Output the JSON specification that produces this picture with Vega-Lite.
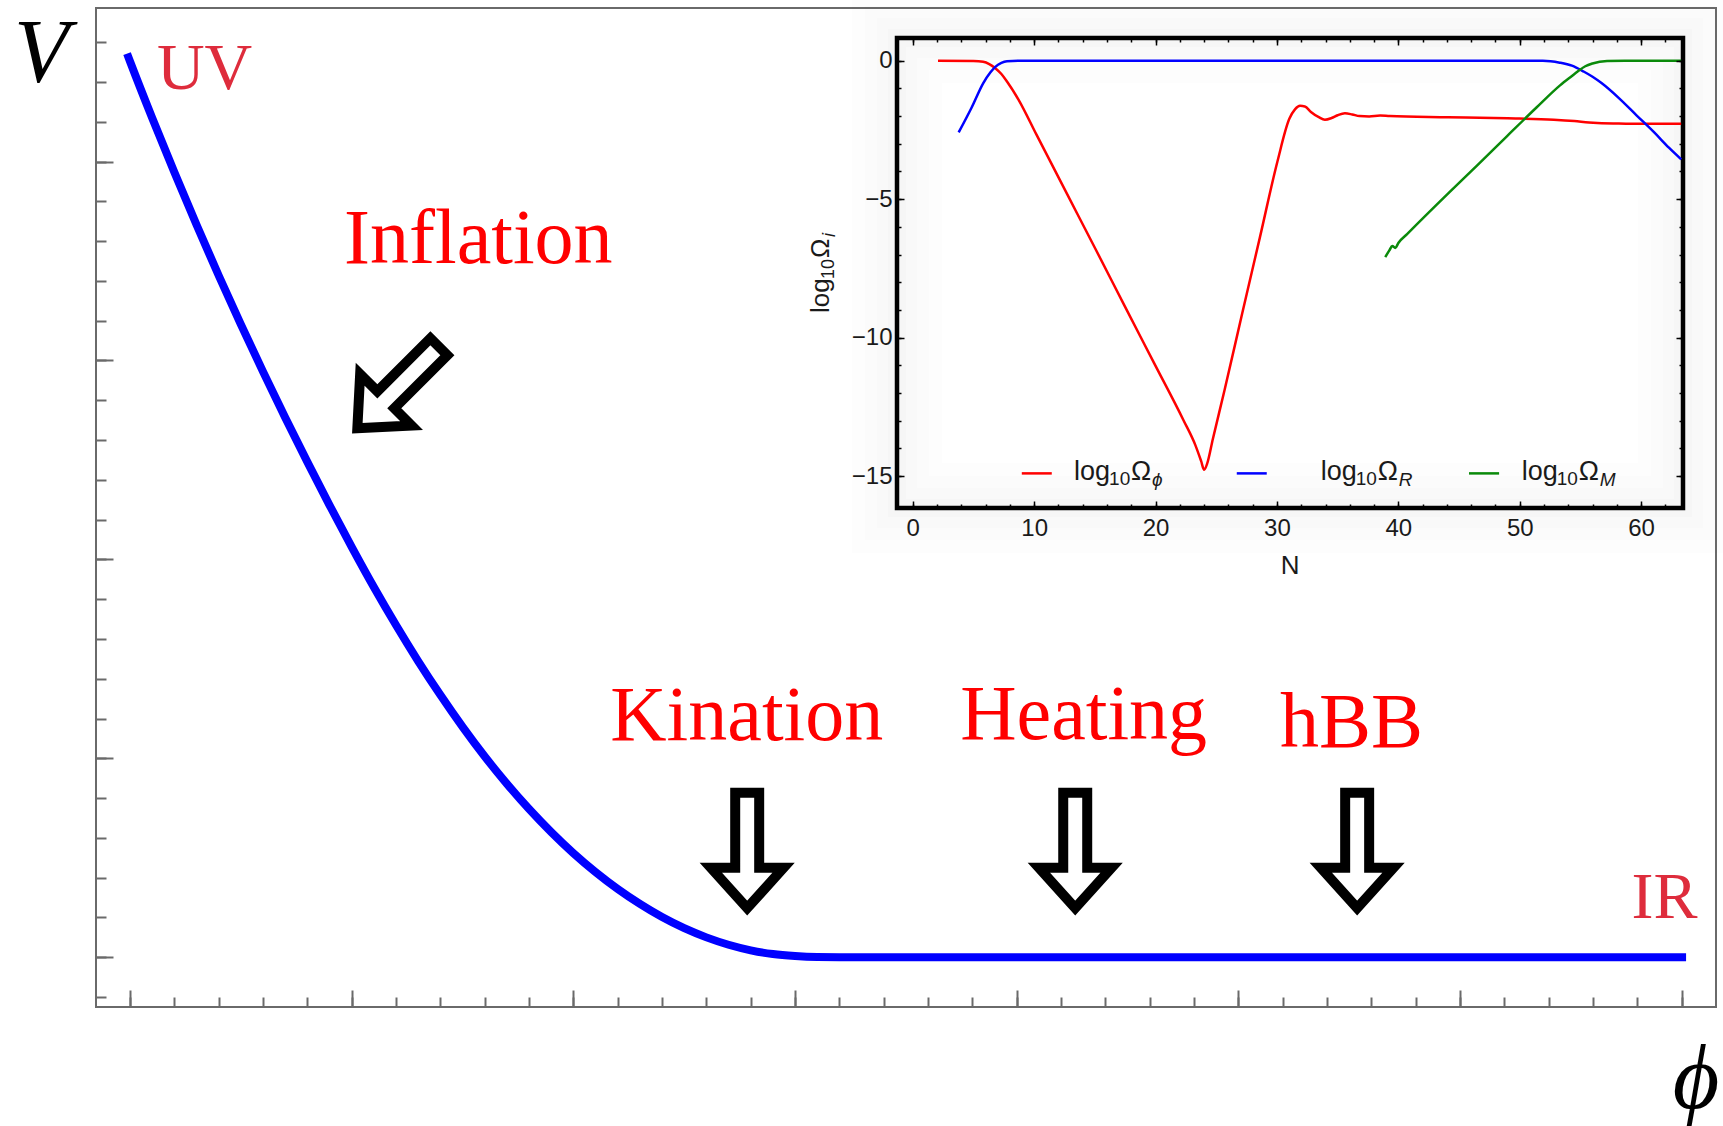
{
  "$schema": "https://vega.github.io/schema/vega-lite/v6.json",
  "width": 1620,
  "height": 999,
  "autosize": {"type": "none"},
  "padding": {"left": 96, "top": 8, "right": 7, "bottom": 119},
  "background": "white",
  "config": {"view": {"stroke": "#6a6a6a", "strokeWidth": 2}},
  "datasets": {
    "potential": [
      {"phi": -0.014, "V": 4.543}, {"phi": 0, "V": 4.502}, {"phi": 0.1, "V": 4.218}, {"phi": 0.2, "V": 3.945},
      {"phi": 0.3, "V": 3.681}, {"phi": 0.4, "V": 3.426}, {"phi": 0.5, "V": 3.18}, {"phi": 0.6, "V": 2.943},
      {"phi": 0.7, "V": 2.712}, {"phi": 0.8, "V": 2.489}, {"phi": 0.9, "V": 2.272}, {"phi": 1.0, "V": 2.062},
      {"phi": 1.1, "V": 1.86}, {"phi": 1.2, "V": 1.669}, {"phi": 1.3, "V": 1.488}, {"phi": 1.4, "V": 1.318},
      {"phi": 1.5, "V": 1.158}, {"phi": 1.6, "V": 1.009}, {"phi": 1.7, "V": 0.872}, {"phi": 1.8, "V": 0.745},
      {"phi": 1.9, "V": 0.629}, {"phi": 2.0, "V": 0.523}, {"phi": 2.1, "V": 0.428}, {"phi": 2.2, "V": 0.343},
      {"phi": 2.3, "V": 0.268}, {"phi": 2.4, "V": 0.202}, {"phi": 2.5, "V": 0.146}, {"phi": 2.6, "V": 0.1},
      {"phi": 2.7, "V": 0.063}, {"phi": 2.8, "V": 0.035}, {"phi": 2.9, "V": 0.016}, {"phi": 3.0, "V": 0.006},
      {"phi": 3.1, "V": 0.001}, {"phi": 3.2, "V": 0}, {"phi": 4, "V": 0}, {"phi": 5, "V": 0}, {"phi": 6, "V": 0},
      {"phi": 7.02, "V": 0}
    ],
    "phases": [
      {"label": "Inflation", "x": 1.571, "y": 3.49},
      {"label": "Kination", "x": 2.782, "y": 1.092},
      {"label": "Heating", "x": 4.302, "y": 1.097},
      {"label": "hBB", "x": 5.511, "y": 1.057}
    ],
    "ends": [
      {"label": "UV", "x": 0.336, "y": 4.363},
      {"label": "IR", "x": 6.923, "y": 0.197}
    ],
    "symbols": [
      {"label": "V", "x": -0.4, "y": 4.398},
      {"label": "ϕ", "x": 7.065, "y": -0.757}
    ],
    "arrows": [
      {"stage": "Inflation", "x": 1.209, "y": 2.864},
      {"stage": "Kination", "x": 2.784, "y": 0.537},
      {"stage": "Heating", "x": 4.264, "y": 0.537},
      {"stage": "hBB", "x": 5.536, "y": 0.537}
    ],
    "frame": [{"x1": -1.3, "x2": 63.45, "y1": -16.15, "y2": 0.82}],
    "omega": [
      {"series": "phi", "N": 2.08, "logOmega": 0}, {"series": "phi", "N": 5.0, "logOmega": -0.01},
      {"series": "phi", "N": 5.8, "logOmega": -0.04}, {"series": "phi", "N": 6.3, "logOmega": -0.12},
      {"series": "phi", "N": 6.8, "logOmega": -0.27}, {"series": "phi", "N": 7.3, "logOmega": -0.48},
      {"series": "phi", "N": 7.76, "logOmega": -0.75}, {"series": "phi", "N": 8.73, "logOmega": -1.42},
      {"series": "phi", "N": 10.18, "logOmega": -2.66}, {"series": "phi", "N": 12.6, "logOmega": -4.72},
      {"series": "phi", "N": 15.03, "logOmega": -6.78}, {"series": "phi", "N": 17.45, "logOmega": -8.85},
      {"series": "phi", "N": 19.87, "logOmega": -10.91}, {"series": "phi", "N": 22.3, "logOmega": -12.98},
      {"series": "phi", "N": 23.27, "logOmega": -13.87}, {"series": "phi", "N": 23.75, "logOmega": -14.45},
      {"series": "phi", "N": 24.0, "logOmega": -14.77}, {"series": "phi", "N": 24.25, "logOmega": -14.55},
      {"series": "phi", "N": 24.72, "logOmega": -13.66}, {"series": "phi", "N": 25.69, "logOmega": -11.88},
      {"series": "phi", "N": 27.14, "logOmega": -9.12}, {"series": "phi", "N": 28.6, "logOmega": -6.37},
      {"series": "phi", "N": 30.05, "logOmega": -3.62}, {"series": "phi", "N": 31.02, "logOmega": -2.1},
      {"series": "phi", "N": 31.5, "logOmega": -1.75}, {"series": "phi", "N": 31.9, "logOmega": -1.63},
      {"series": "phi", "N": 32.3, "logOmega": -1.65}, {"series": "phi", "N": 32.8, "logOmega": -1.85},
      {"series": "phi", "N": 33.45, "logOmega": -2.04}, {"series": "phi", "N": 33.95, "logOmega": -2.13},
      {"series": "phi", "N": 34.5, "logOmega": -2.07}, {"series": "phi", "N": 35.0, "logOmega": -1.97},
      {"series": "phi", "N": 35.6, "logOmega": -1.9}, {"series": "phi", "N": 36.2, "logOmega": -1.94},
      {"series": "phi", "N": 36.8, "logOmega": -2.0}, {"series": "phi", "N": 37.6, "logOmega": -2.01},
      {"series": "phi", "N": 38.5, "logOmega": -1.98}, {"series": "phi", "N": 39.3, "logOmega": -2.0},
      {"series": "phi", "N": 44.1, "logOmega": -2.04}, {"series": "phi", "N": 49.0, "logOmega": -2.08},
      {"series": "phi", "N": 52.8, "logOmega": -2.13}, {"series": "phi", "N": 54.5, "logOmega": -2.18},
      {"series": "phi", "N": 55.7, "logOmega": -2.23}, {"series": "phi", "N": 57.7, "logOmega": -2.27},
      {"series": "phi", "N": 63.3, "logOmega": -2.28},
      {"series": "R", "N": 3.78, "logOmega": -2.59}, {"series": "R", "N": 4.85, "logOmega": -1.69},
      {"series": "R", "N": 5.82, "logOmega": -0.8}, {"series": "R", "N": 6.4, "logOmega": -0.42},
      {"series": "R", "N": 6.8, "logOmega": -0.22}, {"series": "R", "N": 7.3, "logOmega": -0.08},
      {"series": "R", "N": 7.76, "logOmega": -0.02}, {"series": "R", "N": 8.73, "logOmega": 0},
      {"series": "R", "N": 51.9, "logOmega": 0}, {"series": "R", "N": 53.3, "logOmega": -0.07},
      {"series": "R", "N": 54.3, "logOmega": -0.18}, {"series": "R", "N": 55.26, "logOmega": -0.39},
      {"series": "R", "N": 56.0, "logOmega": -0.58}, {"series": "R", "N": 56.71, "logOmega": -0.8},
      {"series": "R", "N": 58.17, "logOmega": -1.35}, {"series": "R", "N": 59.62, "logOmega": -1.97},
      {"series": "R", "N": 61.08, "logOmega": -2.59}, {"series": "R", "N": 62.29, "logOmega": -3.14},
      {"series": "R", "N": 63.3, "logOmega": -3.56},
      {"series": "M", "N": 38.92, "logOmega": -7.09}, {"series": "M", "N": 39.26, "logOmega": -6.85},
      {"series": "M", "N": 39.5, "logOmega": -6.69}, {"series": "M", "N": 39.75, "logOmega": -6.76},
      {"series": "M", "N": 40.0, "logOmega": -6.58}, {"series": "M", "N": 40.72, "logOmega": -6.26},
      {"series": "M", "N": 44.11, "logOmega": -4.79}, {"series": "M", "N": 46.54, "logOmega": -3.76},
      {"series": "M", "N": 48.96, "logOmega": -2.72}, {"series": "M", "N": 51.38, "logOmega": -1.69},
      {"series": "M", "N": 53.32, "logOmega": -0.89}, {"series": "M", "N": 54.3, "logOmega": -0.55},
      {"series": "M", "N": 54.77, "logOmega": -0.39}, {"series": "M", "N": 55.4, "logOmega": -0.2},
      {"series": "M", "N": 55.99, "logOmega": -0.1}, {"series": "M", "N": 57.2, "logOmega": -0.01},
      {"series": "M", "N": 58.65, "logOmega": 0}, {"series": "M", "N": 63.3, "logOmega": 0}
    ],
    "legend": [
      {"series": "phi", "sub": "ϕ", "x0": 8.98, "x1": 11.45, "xt": 13.29, "ly": -14.9, "ty": -15.14},
      {"series": "R", "sub": "R", "x0": 26.69, "x1": 29.16, "xt": 33.61, "ly": -14.9, "ty": -15.14},
      {"series": "M", "sub": "M", "x0": 45.82, "x1": 48.3, "xt": 50.16, "ly": -14.9, "ty": -15.14}
    ],
    "ytitle": [{"sub": "i", "xt": -6.89, "ty": -9.11}],
    "xtitle": [{"label": "N", "x": 31.08, "y": -18.55}]
  },
  "layer": [
    {
      "data": {"name": "potential"},
      "mark": {"type": "line", "color": "#0000ff", "strokeWidth": 8, "interpolate": "monotone", "strokeCap": "butt"},
      "encoding": {
        "x": {"field": "phi", "type": "quantitative",
          "scale": {"domain": [-0.154, 7.155], "nice": false, "zero": false},
          "axis": {"orient": "bottom", "values": [0, 1, 2, 3, 4, 5, 6, 7], "labels": false, "tickSize": -17, "tickWidth": 2, "tickColor": "#6a6a6a", "domain": false, "grid": false, "title": null}},
        "y": {"field": "V", "type": "quantitative",
          "scale": {"domain": [-0.25, 4.772], "nice": false, "zero": false},
          "axis": {"orient": "left", "values": [0, 1, 2, 3, 4], "labels": false, "tickSize": -17, "tickWidth": 2, "tickColor": "#6a6a6a", "domain": false, "grid": false, "title": null}}
      }
    },
    {
      "data": {"name": "phases"},
      "mark": {"type": "text", "font": "Liberation Serif", "fontSize": 78, "color": "#ff0000", "align": "center", "baseline": "alphabetic"},
      "encoding": {
        "x": {"field": "x", "type": "quantitative",
          "scale": {"domain": [-0.154, 7.155], "nice": false, "zero": false},
          "axis": {"orient": "bottom", "values": [0, 0.2, 0.4, 0.6, 0.8, 1, 1.2, 1.4, 1.6, 1.8, 2, 2.2, 2.4, 2.6, 2.8, 3, 3.2, 3.4, 3.6, 3.8, 4, 4.2, 4.4, 4.6, 4.8, 5, 5.2, 5.4, 5.6, 5.8, 6, 6.2, 6.4, 6.6, 6.8, 7], "labels": false, "tickSize": -10, "tickWidth": 2, "tickColor": "#6a6a6a", "domain": false, "grid": false, "title": null}},
        "y": {"field": "y", "type": "quantitative",
          "scale": {"domain": [-0.25, 4.772], "nice": false, "zero": false},
          "axis": {"orient": "left", "values": [-0.2, 0, 0.2, 0.4, 0.6, 0.8, 1, 1.2, 1.4, 1.6, 1.8, 2, 2.2, 2.4, 2.6, 2.8, 3, 3.2, 3.4, 3.6, 3.8, 4, 4.2, 4.4, 4.6], "labels": false, "tickSize": -10, "tickWidth": 2, "tickColor": "#6a6a6a", "domain": false, "grid": false, "title": null}},
        "text": {"field": "label"}
      }
    },
    {
      "data": {"name": "ends"},
      "mark": {"type": "text", "font": "Liberation Serif", "fontSize": 66, "color": "#de2c3c", "align": "center", "baseline": "alphabetic"},
      "encoding": {
        "x": {"field": "x", "type": "quantitative", "scale": {"domain": [-0.154, 7.155], "nice": false, "zero": false}, "axis": null},
        "y": {"field": "y", "type": "quantitative", "scale": {"domain": [-0.25, 4.772], "nice": false, "zero": false}, "axis": null},
        "text": {"field": "label"}
      }
    },
    {
      "data": {"name": "symbols"},
      "mark": {"type": "text", "font": "Liberation Serif", "fontStyle": "italic", "fontSize": 90, "color": "#000000", "align": "center", "baseline": "alphabetic"},
      "encoding": {
        "x": {"field": "x", "type": "quantitative", "scale": {"domain": [-0.154, 7.155], "nice": false, "zero": false}, "axis": null},
        "y": {"field": "y", "type": "quantitative", "scale": {"domain": [-0.25, 4.772], "nice": false, "zero": false}, "axis": null},
        "text": {"field": "label"}
      }
    },
    {
      "data": {"name": "arrows"},
      "transform": [{"filter": "datum.stage === 'Inflation'"}],
      "mark": {"type": "point", "shape": "M -0.208 -1 L 0.208 -1 L 0.208 0.301 L 0.63 0.301 L 0 1 L -0.63 0.301 L -0.208 0.301 Z", "size": 13294, "angle": 45, "filled": true, "fill": "#ffffff", "stroke": "#000000", "strokeWidth": 10, "strokeJoin": "miter", "opacity": 1},
      "encoding": {
        "x": {"field": "x", "type": "quantitative", "scale": {"domain": [-0.154, 7.155], "nice": false, "zero": false}, "axis": null},
        "y": {"field": "y", "type": "quantitative", "scale": {"domain": [-0.25, 4.772], "nice": false, "zero": false}, "axis": null}
      }
    },
    {
      "data": {"name": "arrows"},
      "transform": [{"filter": "datum.stage !== 'Inflation'"}],
      "mark": {"type": "point", "shape": "M -0.208 -1 L 0.208 -1 L 0.208 0.301 L 0.63 0.301 L 0 1 L -0.63 0.301 L -0.208 0.301 Z", "size": 13294, "filled": true, "fill": "#ffffff", "stroke": "#000000", "strokeWidth": 10, "strokeJoin": "miter", "opacity": 1},
      "encoding": {
        "x": {"field": "x", "type": "quantitative", "scale": {"domain": [-0.154, 7.155], "nice": false, "zero": false}, "axis": null},
        "y": {"field": "y", "type": "quantitative", "scale": {"domain": [-0.25, 4.772], "nice": false, "zero": false}, "axis": null}
      }
    },
    {
      "data": {"name": "frame"},
      "mark": {"type": "rect", "filled": false, "stroke": "#000000", "strokeOpacity": 0.007, "strokeWidth": 90},
      "encoding": {
        "x": {"field": "x1", "type": "quantitative", "scale": {"domain": [-1.3, 63.45], "range": [801, 1587], "nice": false, "zero": false}, "axis": null},
        "x2": {"field": "x2"},
        "y": {"field": "y1", "type": "quantitative", "scale": {"domain": [-16.15, 0.82], "range": [500, 30], "nice": false, "zero": false}, "axis": null},
        "y2": {"field": "y2"}
      }
    },
    {
      "data": {"name": "frame"},
      "mark": {"type": "rect", "filled": false, "stroke": "#000000", "strokeOpacity": 0.008, "strokeWidth": 64},
      "encoding": {
        "x": {"field": "x1", "type": "quantitative", "scale": {"domain": [-1.3, 63.45], "range": [801, 1587], "nice": false, "zero": false}, "axis": null},
        "x2": {"field": "x2"},
        "y": {"field": "y1", "type": "quantitative", "scale": {"domain": [-16.15, 0.82], "range": [500, 30], "nice": false, "zero": false}, "axis": null},
        "y2": {"field": "y2"}
      }
    },
    {
      "data": {"name": "frame"},
      "mark": {"type": "rect", "filled": false, "stroke": "#000000", "strokeOpacity": 0.009, "strokeWidth": 40},
      "encoding": {
        "x": {"field": "x1", "type": "quantitative", "scale": {"domain": [-1.3, 63.45], "range": [801, 1587], "nice": false, "zero": false}, "axis": null},
        "x2": {"field": "x2"},
        "y": {"field": "y1", "type": "quantitative", "scale": {"domain": [-16.15, 0.82], "range": [500, 30], "nice": false, "zero": false}, "axis": null},
        "y2": {"field": "y2"}
      }
    },
    {
      "data": {"name": "frame"},
      "mark": {"type": "rect", "filled": false, "stroke": "#000000", "strokeOpacity": 0.01, "strokeWidth": 18},
      "encoding": {
        "x": {"field": "x1", "type": "quantitative", "scale": {"domain": [-1.3, 63.45], "range": [801, 1587], "nice": false, "zero": false}, "axis": null},
        "x2": {"field": "x2"},
        "y": {"field": "y1", "type": "quantitative", "scale": {"domain": [-16.15, 0.82], "range": [500, 30], "nice": false, "zero": false}, "axis": null},
        "y2": {"field": "y2"}
      }
    },
    {
      "data": {"name": "frame"},
      "mark": {"type": "rect", "filled": false, "stroke": "#000000", "strokeWidth": 4.5},
      "encoding": {
        "x": {"field": "x1", "type": "quantitative",
          "scale": {"domain": [-1.3, 63.45], "range": [801, 1587], "nice": false, "zero": false},
          "axis": {"orient": "bottom", "offset": -499, "values": [0, 10, 20, 30, 40, 50, 60], "ticks": false, "labels": true, "labelFont": "Liberation Sans", "labelFontSize": 24, "labelColor": "#1a1a1a", "labelPadding": 8, "domain": false, "grid": false, "title": null, "zindex": 1}},
        "x2": {"field": "x2"},
        "y": {"field": "y1", "type": "quantitative",
          "scale": {"domain": [-16.15, 0.82], "range": [500, 30], "nice": false, "zero": false},
          "axis": {"orient": "left", "offset": -801, "values": [0, -5, -10, -15], "ticks": false, "labels": true, "labelFont": "Liberation Sans", "labelFontSize": 24, "labelColor": "#1a1a1a", "labelPadding": 5, "domain": false, "grid": false, "title": null, "zindex": 1}},
        "y2": {"field": "y2"}
      }
    },
    {
      "data": {"name": "omega"},
      "mark": {"type": "line", "strokeWidth": 2.5, "interpolate": "monotone"},
      "encoding": {
        "x": {"field": "N", "type": "quantitative",
          "scale": {"domain": [-1.3, 63.45], "range": [801, 1587], "nice": false, "zero": false},
          "axis": {"orient": "bottom", "offset": -499, "values": [0, 10, 20, 30, 40, 50, 60], "labels": false, "tickSize": -7, "tickWidth": 1.5, "tickColor": "#000000", "domain": false, "grid": false, "title": null, "zindex": 1}},
        "y": {"field": "logOmega", "type": "quantitative",
          "scale": {"domain": [-16.15, 0.82], "range": [500, 30], "nice": false, "zero": false},
          "axis": {"orient": "left", "offset": -801, "values": [0, -5, -10, -15], "labels": false, "tickSize": -7, "tickWidth": 1.5, "tickColor": "#000000", "domain": false, "grid": false, "title": null, "zindex": 1}},
        "color": {"field": "series", "type": "nominal", "scale": {"domain": ["phi", "R", "M"], "range": ["#ff0000", "#0000ff", "#0a8a0a"]}, "legend": null}
      }
    },
    {
      "data": {"name": "legend"},
      "mark": {"type": "rule", "strokeWidth": 2.5},
      "encoding": {
        "x": {"field": "x0", "type": "quantitative",
          "scale": {"domain": [-1.3, 63.45], "range": [801, 1587], "nice": false, "zero": false},
          "axis": {"orient": "bottom", "offset": -499, "values": [0, 2, 4, 6, 8, 10, 12, 14, 16, 18, 20, 22, 24, 26, 28, 30, 32, 34, 36, 38, 40, 42, 44, 46, 48, 50, 52, 54, 56, 58, 60, 62], "labels": false, "tickSize": -4, "tickWidth": 1.5, "tickColor": "#000000", "domain": false, "grid": false, "title": null, "zindex": 1}},
        "x2": {"field": "x1"},
        "y": {"field": "ly", "type": "quantitative",
          "scale": {"domain": [-16.15, 0.82], "range": [500, 30], "nice": false, "zero": false},
          "axis": {"orient": "left", "offset": -801, "values": [-15, -14, -13, -12, -11, -10, -9, -8, -7, -6, -5, -4, -3, -2, -1, 0], "labels": false, "tickSize": -4, "tickWidth": 1.5, "tickColor": "#000000", "domain": false, "grid": false, "title": null, "zindex": 1}},
        "color": {"field": "series", "type": "nominal", "scale": {"domain": ["phi", "R", "M"], "range": ["#ff0000", "#0000ff", "#0a8a0a"]}, "legend": null}
      }
    },
    {
      "data": {"name": "legend"},
      "mark": {"type": "text", "text": "log", "font": "Liberation Sans", "fontSize": 27, "color": "#1a1a1a", "align": "left", "baseline": "alphabetic"},
      "encoding": {
        "x": {"field": "xt", "type": "quantitative",
          "scale": {"domain": [-1.3, 63.45], "range": [801, 1587], "nice": false, "zero": false},
          "axis": {"orient": "top", "offset": -30, "values": [0, 10, 20, 30, 40, 50, 60], "labels": false, "tickSize": -7, "tickWidth": 1.5, "tickColor": "#000000", "domain": false, "grid": false, "title": null, "zindex": 1}},
        "y": {"field": "ty", "type": "quantitative",
          "scale": {"domain": [-16.15, 0.82], "range": [500, 30], "nice": false, "zero": false},
          "axis": {"orient": "right", "offset": -33, "values": [0, -5, -10, -15], "labels": false, "tickSize": -7, "tickWidth": 1.5, "tickColor": "#000000", "domain": false, "grid": false, "title": null, "zindex": 1}}
      }
    },
    {
      "data": {"name": "legend"},
      "mark": {"type": "text", "text": "10", "dx": 35, "dy": 5, "font": "Liberation Sans", "fontSize": 19, "color": "#1a1a1a", "align": "left", "baseline": "alphabetic"},
      "encoding": {
        "x": {"field": "xt", "type": "quantitative",
          "scale": {"domain": [-1.3, 63.45], "range": [801, 1587], "nice": false, "zero": false},
          "axis": {"orient": "top", "offset": -30, "values": [0, 2, 4, 6, 8, 10, 12, 14, 16, 18, 20, 22, 24, 26, 28, 30, 32, 34, 36, 38, 40, 42, 44, 46, 48, 50, 52, 54, 56, 58, 60, 62], "labels": false, "tickSize": -4, "tickWidth": 1.5, "tickColor": "#000000", "domain": false, "grid": false, "title": null, "zindex": 1}},
        "y": {"field": "ty", "type": "quantitative",
          "scale": {"domain": [-16.15, 0.82], "range": [500, 30], "nice": false, "zero": false},
          "axis": {"orient": "right", "offset": -33, "values": [-15, -14, -13, -12, -11, -10, -9, -8, -7, -6, -5, -4, -3, -2, -1, 0], "labels": false, "tickSize": -4, "tickWidth": 1.5, "tickColor": "#000000", "domain": false, "grid": false, "title": null, "zindex": 1}}
      }
    },
    {
      "data": {"name": "legend"},
      "mark": {"type": "text", "text": "Ω", "dx": 57, "font": "Liberation Sans", "fontSize": 27, "color": "#1a1a1a", "align": "left", "baseline": "alphabetic"},
      "encoding": {
        "x": {"field": "xt", "type": "quantitative", "scale": {"domain": [-1.3, 63.45], "range": [801, 1587], "nice": false, "zero": false}, "axis": null},
        "y": {"field": "ty", "type": "quantitative", "scale": {"domain": [-16.15, 0.82], "range": [500, 30], "nice": false, "zero": false}, "axis": null}
      }
    },
    {
      "data": {"name": "legend"},
      "mark": {"type": "text", "dx": 78, "dy": 6, "font": "Liberation Sans", "fontStyle": "italic", "fontSize": 19, "color": "#1a1a1a", "align": "left", "baseline": "alphabetic"},
      "encoding": {
        "x": {"field": "xt", "type": "quantitative", "scale": {"domain": [-1.3, 63.45], "range": [801, 1587], "nice": false, "zero": false}, "axis": null},
        "y": {"field": "ty", "type": "quantitative", "scale": {"domain": [-16.15, 0.82], "range": [500, 30], "nice": false, "zero": false}, "axis": null},
        "text": {"field": "sub"}
      }
    },
    {
      "data": {"name": "ytitle"},
      "mark": {"type": "text", "text": "log", "angle": 270, "font": "Liberation Sans", "fontSize": 26, "color": "#1a1a1a", "align": "left", "baseline": "alphabetic"},
      "encoding": {
        "x": {"field": "xt", "type": "quantitative", "scale": {"domain": [-1.3, 63.45], "range": [801, 1587], "nice": false, "zero": false}, "axis": null},
        "y": {"field": "ty", "type": "quantitative", "scale": {"domain": [-16.15, 0.82], "range": [500, 30], "nice": false, "zero": false}, "axis": null}
      }
    },
    {
      "data": {"name": "ytitle"},
      "mark": {"type": "text", "text": "10", "angle": 270, "dx": 34, "dy": 5, "font": "Liberation Sans", "fontSize": 18, "color": "#1a1a1a", "align": "left", "baseline": "alphabetic"},
      "encoding": {
        "x": {"field": "xt", "type": "quantitative", "scale": {"domain": [-1.3, 63.45], "range": [801, 1587], "nice": false, "zero": false}, "axis": null},
        "y": {"field": "ty", "type": "quantitative", "scale": {"domain": [-16.15, 0.82], "range": [500, 30], "nice": false, "zero": false}, "axis": null}
      }
    },
    {
      "data": {"name": "ytitle"},
      "mark": {"type": "text", "text": "Ω", "angle": 270, "dx": 55, "font": "Liberation Sans", "fontSize": 26, "color": "#1a1a1a", "align": "left", "baseline": "alphabetic"},
      "encoding": {
        "x": {"field": "xt", "type": "quantitative", "scale": {"domain": [-1.3, 63.45], "range": [801, 1587], "nice": false, "zero": false}, "axis": null},
        "y": {"field": "ty", "type": "quantitative", "scale": {"domain": [-16.15, 0.82], "range": [500, 30], "nice": false, "zero": false}, "axis": null}
      }
    },
    {
      "data": {"name": "ytitle"},
      "mark": {"type": "text", "angle": 270, "dx": 76, "dy": 6, "font": "Liberation Sans", "fontStyle": "italic", "fontSize": 18, "color": "#1a1a1a", "align": "left", "baseline": "alphabetic"},
      "encoding": {
        "x": {"field": "xt", "type": "quantitative", "scale": {"domain": [-1.3, 63.45], "range": [801, 1587], "nice": false, "zero": false}, "axis": null},
        "y": {"field": "ty", "type": "quantitative", "scale": {"domain": [-16.15, 0.82], "range": [500, 30], "nice": false, "zero": false}, "axis": null},
        "text": {"field": "sub"}
      }
    },
    {
      "data": {"name": "xtitle"},
      "mark": {"type": "text", "font": "Liberation Sans", "fontSize": 26, "color": "#1a1a1a", "align": "center", "baseline": "alphabetic"},
      "encoding": {
        "x": {"field": "x", "type": "quantitative", "scale": {"domain": [-1.3, 63.45], "range": [801, 1587], "nice": false, "zero": false}, "axis": null},
        "y": {"field": "y", "type": "quantitative", "scale": {"domain": [-16.15, 0.82], "range": [500, 30], "nice": false, "zero": false}, "axis": null},
        "text": {"field": "label"}
      }
    }
  ],
  "resolve": {
    "scale": {"x": "independent", "y": "independent"},
    "axis": {"x": "independent", "y": "independent"}
  }
}
